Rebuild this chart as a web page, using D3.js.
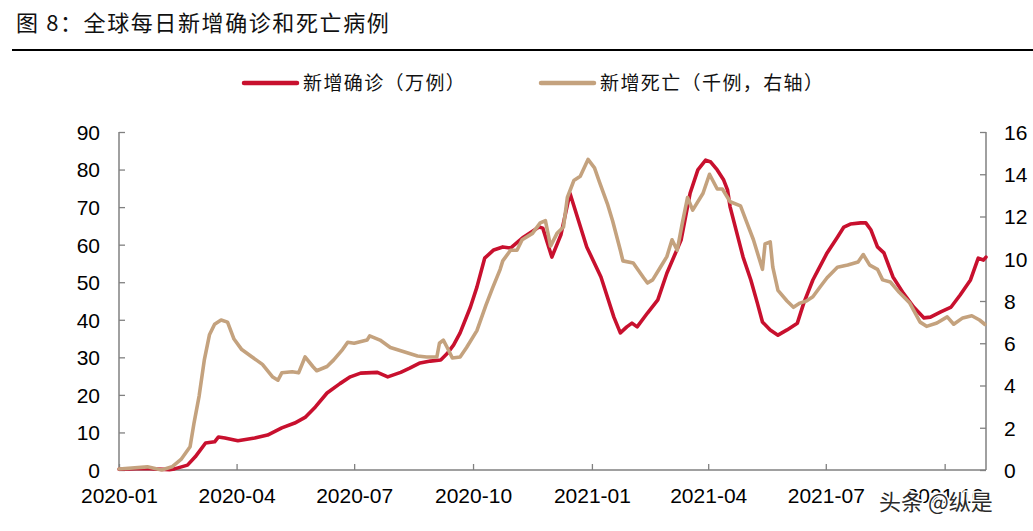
<!DOCTYPE html>
<html>
<head>
<meta charset="utf-8">
<script src="https://cdn.jsdelivr.net/npm/d3@7"></script>
<style>
  html, body { margin: 0; padding: 0; background: #fff; }
  svg { display: block; }
</style>
</head>
<body>
<svg id="chart" width="1033" height="531"></svg>
<script>
// ---------------- data ----------------
const titleText = "图 8：全球每日新增确诊和死亡病例";
const seriesNames = ["新增确诊（万例）", "新增死亡（千例，右轴）"];

const confirmedDates = [
  "2020-01-01","2020-01-21","2020-02-09","2020-02-13","2020-02-23","2020-02-29","2020-03-08","2020-03-15",
  "2020-03-18","2020-03-23","2020-04-02","2020-04-15","2020-04-25","2020-05-06","2020-05-16","2020-05-24",
  "2020-06-01","2020-06-10","2020-06-20","2020-06-28","2020-07-06","2020-07-19","2020-07-27","2020-08-06",
  "2020-08-13","2020-08-21","2020-08-29","2020-09-06","2020-09-11","2020-09-16","2020-09-21","2020-09-29",
  "2020-10-04","2020-10-10","2020-10-17","2020-10-24","2020-10-30","2020-11-09","2020-11-21","2020-11-24",
  "2020-12-01","2020-12-08","2020-12-15","2020-12-28","2021-01-08","2021-01-18","2021-01-23","2021-01-28",
  "2021-02-01","2021-02-05","2021-02-13","2021-02-21","2021-02-28","2021-03-11","2021-03-18","2021-03-24",
  "2021-03-30","2021-04-03","2021-04-08","2021-04-13","2021-04-16","2021-04-18","2021-04-24","2021-04-28",
  "2021-05-04","2021-05-09","2021-05-13","2021-05-19","2021-05-25","2021-06-01","2021-06-09","2021-06-14",
  "2021-06-21","2021-06-25","2021-07-02","2021-07-10","2021-07-15","2021-07-20","2021-07-28","2021-08-01",
  "2021-08-05","2021-08-10","2021-08-15","2021-08-22","2021-08-30","2021-09-07","2021-09-15","2021-09-20",
  "2021-09-28","2021-10-06","2021-10-13","2021-10-21","2021-10-27","2021-10-31","2021-11-02"
];
const confirmedValues = [
  0.2, 0.4, 0.1, 0.3, 1.3, 3.5, 7.2, 7.5,
  8.8, 8.5, 7.8, 8.5, 9.3, 11.2, 12.5, 14.0,
  16.8, 20.5, 23.0, 24.8, 25.8, 26.0, 24.8, 26.0,
  27.1, 28.5, 29.0, 29.3, 31.0, 33.3, 36.5, 43.4,
  48.7, 56.4, 58.6, 59.4, 59.1, 62.0, 64.7, 64.4,
  56.7, 62.6, 73.7, 59.4, 51.4, 40.7, 36.5, 38.1,
  39.1, 38.1, 41.8, 45.3, 52.4, 61.2, 73.7, 79.9,
  82.5, 82.0, 79.9, 77.2, 74.5, 70.0, 62.0, 56.7,
  50.6, 44.5, 39.4, 37.3, 35.9, 37.3, 39.1, 44.5,
  50.6, 53.2, 57.8, 62.0, 64.7, 65.5, 65.8, 65.8,
  63.9, 59.4, 57.8, 51.4, 47.1, 43.4, 40.5, 40.7,
  42.1, 43.4, 46.6, 50.6, 56.4, 55.9, 56.7
];

const deathDates = [
  "2020-01-01","2020-01-23","2020-02-03","2020-02-11","2020-02-18","2020-02-25","2020-02-28","2020-03-03",
  "2020-03-07","2020-03-11","2020-03-15","2020-03-20","2020-03-25","2020-03-30","2020-04-05","2020-04-13",
  "2020-04-21","2020-04-29","2020-05-03","2020-05-06","2020-05-14","2020-05-19","2020-05-24","2020-05-30",
  "2020-06-02","2020-06-10","2020-06-15","2020-06-22","2020-06-26","2020-07-01","2020-07-11","2020-07-13",
  "2020-07-21","2020-07-29","2020-08-11","2020-08-19","2020-08-26","2020-09-03","2020-09-05","2020-09-08",
  "2020-09-11","2020-09-15","2020-09-21","2020-09-26","2020-10-04","2020-10-11","2020-10-16","2020-10-22",
  "2020-10-24","2020-10-30","2020-11-04","2020-11-08","2020-11-16","2020-11-22","2020-11-26","2020-11-30",
  "2020-12-05","2020-12-10","2020-12-13","2020-12-18","2020-12-23","2020-12-29","2021-01-03","2021-01-07",
  "2021-01-13","2021-01-17","2021-01-23","2021-01-25","2021-02-02","2021-02-10","2021-02-13","2021-02-17",
  "2021-02-23","2021-02-28","2021-03-04","2021-03-08","2021-03-12","2021-03-16","2021-03-20","2021-03-28",
  "2021-04-02","2021-04-08","2021-04-12","2021-04-18","2021-04-26","2021-05-01","2021-05-06","2021-05-13",
  "2021-05-15","2021-05-19","2021-05-21","2021-05-25","2021-06-01","2021-06-06","2021-06-11","2021-06-16",
  "2021-06-21","2021-06-27","2021-07-02","2021-07-10","2021-07-18","2021-07-26","2021-07-30","2021-08-04",
  "2021-08-10","2021-08-14","2021-08-20","2021-08-27","2021-09-04","2021-09-12","2021-09-17","2021-09-25",
  "2021-10-03","2021-10-08","2021-10-15","2021-10-22","2021-10-28","2021-11-01"
];
const deathValues = [
  0.05, 0.15, 0.0, 0.15, 0.5, 1.1, 2.2, 3.5,
  5.2, 6.4, 6.9, 7.1, 7.0, 6.2, 5.7, 5.35,
  5.0, 4.4, 4.25, 4.6, 4.65, 4.6, 5.35, 4.9,
  4.7, 4.9, 5.2, 5.7, 6.05, 6.0, 6.15, 6.35,
  6.15, 5.8, 5.55, 5.4, 5.35, 5.35, 6.0, 6.15,
  5.8, 5.3, 5.35, 5.8, 6.6, 7.8, 8.6, 9.5,
  9.9, 10.4, 10.4, 10.9, 11.2, 11.7, 11.8, 10.6,
  11.2, 11.5, 12.9, 13.7, 13.9, 14.7, 14.3, 13.6,
  12.6, 11.8, 10.4, 9.9, 9.8, 9.1, 8.85, 9.0,
  9.6, 10.1, 10.9, 10.4, 11.7, 12.9, 12.3, 13.1,
  14.0, 13.3, 13.3, 12.7, 12.5, 11.7, 10.9, 9.5,
  10.7, 10.8, 9.6, 8.5, 8.0, 7.7, 7.9, 8.0,
  8.2, 8.7, 9.1, 9.6, 9.7, 9.85, 10.2, 9.7,
  9.5, 9.0, 8.9, 8.4, 7.9, 7.0, 6.8, 6.96,
  7.25, 6.9, 7.2, 7.3, 7.1, 6.9
];

const xTickLabels = ["2020-01","2020-04","2020-07","2020-10","2021-01","2021-04","2021-07","2021-10"];
const leftTicks = [0,10,20,30,40,50,60,70,80,90];
const rightTicks = [0,2,4,6,8,10,12,14,16];
const watermarkText = "头条 @纵是";

// ---------------- layout ----------------
const svg = d3.select("#chart");
const L = 119, R = 986, T = 132, B = 470;
const RED = "#C8102E", TAN = "#C4A27E", AXIS = "#808080";
const parse = d3.timeParse("%Y-%m-%d");
const parseM = d3.timeParse("%Y-%m");

const x = d3.scaleTime().domain([parse("2020-01-01"), parse("2021-11-02")]).range([L, R]);
const yL = d3.scaleLinear().domain([0, 90]).range([B, T]);
const yR = d3.scaleLinear().domain([0, 16]).range([B, T]);

// title
svg.append("text")
  .attr("x", 16).attr("y", 31)
  .attr("font-family", "'Noto Sans CJK SC', sans-serif")
  .attr("font-size", 22).attr("letter-spacing", 1.6)
  .attr("fill", "#111")
  .text(titleText);
svg.append("line")
  .attr("x1", 12).attr("x2", 1033).attr("y1", 50).attr("y2", 50)
  .attr("stroke", "#000").attr("stroke-width", 2);

// legend
const legend = [
  {name: seriesNames[0], color: RED, x0: 244},
  {name: seriesNames[1], color: TAN, x0: 541}
];
legend.forEach(d => {
  svg.append("line").attr("x1", d.x0).attr("x2", d.x0 + 53)
    .attr("y1", 83).attr("y2", 83)
    .attr("stroke", d.color).attr("stroke-width", 4.5).attr("stroke-linecap", "round");
  svg.append("text").attr("x", d.x0 + 59).attr("y", 90)
    .attr("font-family", "'Noto Sans CJK SC', sans-serif")
    .attr("font-size", 19).attr("letter-spacing", 1.4)
    .attr("fill", "#111").text(d.name);
});

// axes
const font = "'Liberation Sans', Arial, sans-serif";
const gx = svg.append("g").attr("transform", `translate(0,${B})`)
  .call(d3.axisBottom(x).tickValues(xTickLabels.map(parseM)).tickSize(-6).tickPadding(0).tickFormat(d3.timeFormat("%Y-%m")));
const gl = svg.append("g").attr("transform", `translate(${L},0)`)
  .call(d3.axisLeft(yL).tickValues(leftTicks).tickSize(-6).tickPadding(19));
const gr = svg.append("g").attr("transform", `translate(${R},0)`)
  .call(d3.axisRight(yR).tickValues(rightTicks).tickSize(-6).tickPadding(18));

[gx, gl, gr].forEach(g => {
  g.select(".domain").attr("stroke", AXIS).attr("stroke-width", 1.5);
  g.selectAll(".tick line").attr("stroke", AXIS).attr("stroke-width", 1.3);
  g.selectAll(".tick text").attr("font-family", font).attr("font-size", 21).attr("fill", "#000");
});
gx.selectAll(".tick text").attr("y", 33).attr("dy", 0);
gl.selectAll(".tick text").attr("dy", "0.35em");
gr.selectAll(".tick text").attr("dy", "0.35em");
// bottom x axis line shouldn't have end ticks from domain path
gx.select(".domain").attr("d", `M${L},0H${R}`);
gl.select(".domain").attr("d", `M0,${B}V${T}`);
gr.select(".domain").attr("d", `M0,${B}V${T}`);

// lines
const confirmed = confirmedDates.map((d, i) => ({date: parse(d), v: confirmedValues[i]}));
const deaths = deathDates.map((d, i) => ({date: parse(d), v: deathValues[i]}));

svg.append("path").datum(confirmed)
  .attr("fill", "none").attr("stroke", RED).attr("stroke-width", 3.6)
  .attr("stroke-linejoin", "round").attr("stroke-linecap", "round")
  .attr("d", d3.line().x(d => x(d.date)).y(d => yL(d.v)));
svg.append("path").datum(deaths)
  .attr("fill", "none").attr("stroke", TAN).attr("stroke-width", 3.6)
  .attr("stroke-linejoin", "round").attr("stroke-linecap", "round")
  .attr("d", d3.line().x(d => x(d.date)).y(d => yR(d.v)));

// watermark
svg.append("text")
  .attr("x", 879).attr("y", 510)
  .attr("font-family", "'Noto Sans CJK SC', sans-serif")
  .attr("font-size", 22)
  .attr("fill", "#2a2a2a")
  .attr("stroke", "#fff").attr("stroke-width", 3).attr("paint-order", "stroke")
  .text(watermarkText);
</script>
</body>
</html>
